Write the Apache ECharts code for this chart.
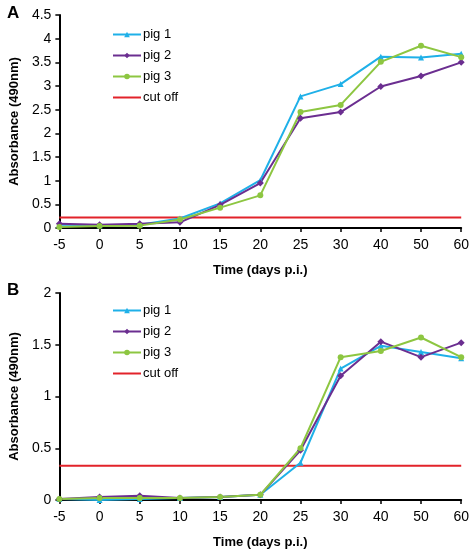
<!DOCTYPE html>
<html><head><meta charset="utf-8">
<script src="https://cdn.jsdelivr.net/npm/echarts@6/dist/echarts.min.js"></script>
<style>html,body{margin:0;padding:0;background:#fff}#c{width:472px;height:550px}</style>
</head><body><div id="c"></div>
<script>
const days = ['-5','0','5','10','15','20','25','30','40','50','60'];
const yTicksA = [0,0.5,1,1.5,2,2.5,3,3.5,4,4.5];
const yTicksB = [0,0.5,1,1.5,2];
const pig1A = [0.07,0.06,0.07,0.20,0.52,1.01,2.78,3.04,3.62,3.60,3.68];
const pig2A = [0.09,0.07,0.09,0.12,0.49,0.95,2.32,2.45,2.99,3.21,3.50];
const pig3A = [0.02,0.04,0.05,0.18,0.43,0.69,2.45,2.60,3.51,3.85,3.61];
const cutA  = [0.22,0.22,0.22,0.22,0.22,0.22,0.22,0.22,0.22,0.22,0.22];
const pig1B = [0.01,0.00,0.01,0.02,0.03,0.05,0.36,1.27,1.49,1.43,1.37];
const pig2B = [0.01,0.03,0.04,0.02,0.03,0.05,0.48,1.20,1.53,1.38,1.52];
const pig3B = [0.01,0.02,0.02,0.02,0.03,0.05,0.50,1.38,1.44,1.57,1.38];
const cutB  = [0.33,0.33,0.33,0.33,0.33,0.33,0.33,0.33,0.33,0.33,0.33];

const C1='#1FB0E8', C2='#6B2E90', C3='#8DC641', CR='#E2232A';
const font='Liberation Sans, Arial, sans-serif';
const chart = echarts.init(document.getElementById('c'));

function xAx(i){return {type:'category',gridIndex:i,data:days,boundaryGap:false,
  name:'Time (days p.i.)',nameLocation:'middle',nameGap:36,
  nameTextStyle:{fontFamily:font,fontSize:13,fontWeight:'bold',color:'#000'},
  axisLine:{lineStyle:{color:'#000',width:2}},
  axisTick:{show:true,length:4,lineStyle:{color:'#000',width:1.5},alignWithLabel:true},
  axisLabel:{fontFamily:font,fontSize:14,color:'#000',margin:10},
  splitLine:{show:false}};}
function yAx(i,max,ticks){return {type:'value',gridIndex:i,min:0,max:max,interval:0.5,
  name:'Absorbance (490nm)',nameLocation:'middle',nameGap:36,
  nameTextStyle:{fontFamily:font,fontSize:13,fontWeight:'bold',color:'#000'},
  axisLine:{show:true,lineStyle:{color:'#000',width:2}},
  axisTick:{show:true,length:4,lineStyle:{color:'#000',width:1.5}},
  axisLabel:{fontFamily:font,fontSize:14,color:'#000',margin:8,
    formatter:v=>ticks.includes(v)?String(v):''},
  splitLine:{show:false}};}
function ser(name,data,color,sym,i){return {name:name,type:'line',xAxisIndex:i,yAxisIndex:i,data:data,
  symbol:sym,symbolSize:sym==='diamond'?7:6,showSymbol:sym!=='none',
  lineStyle:{color:color,width:2},itemStyle:{color:color},animation:false,z:sym==='none'?1:2};}
const leg=(i,top)=>{const s=i===0?'':' ';return {orient:'vertical',left:107,top:top,itemWidth:28,itemHeight:7,itemGap:8,
  data:[{name:'pig 1'+s},{name:'pig 2'+s},{name:'pig 3'+s},{name:'cut off'+s,icon:'path://M0,0H28V2H0Z'}],
  textStyle:{fontFamily:font,fontSize:13,color:'#000',padding:[0,0,0,-3]}};};
chart.setOption({
  backgroundColor:'#fff',
  title:[{text:'A',left:2,top:0,textStyle:{fontFamily:font,fontSize:17,fontWeight:'bold',color:'#000'}},
         {text:'B',left:2,top:277,textStyle:{fontFamily:font,fontSize:17,fontWeight:'bold',color:'#000'}}],
  legend:[leg(0,23),leg(1,299)],
  grid:[{left:48,right:9,top:15,height:213},{left:48,right:9,top:293,height:213}],
  xAxis:[xAx(0),xAx(1)],
  yAxis:[yAx(0,4.5,yTicksA),yAx(1,2,yTicksB)],
  series:[
    ser('pig 1',pig1A,C1,'triangle',0),ser('pig 2',pig2A,C2,'diamond',0),ser('pig 3',pig3A,C3,'circle',0),ser('cut off',cutA,CR,'none',0),
    ser('pig 1 ',pig1B,C1,'triangle',1),ser('pig 2 ',pig2B,C2,'diamond',1),ser('pig 3 ',pig3B,C3,'circle',1),ser('cut off ',cutB,CR,'none',1)
  ]
});
</script></body></html>
